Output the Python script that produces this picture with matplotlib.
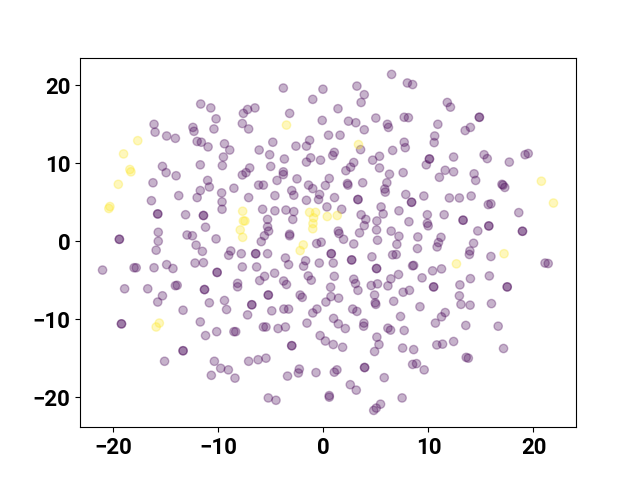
import matplotlib
matplotlib.use('Agg')
import matplotlib.pyplot as plt
import numpy as np

# t-SNE embedding: class 0 (purple)
x0 = [
    -11.66, -10.7, -10.2, -16.1, -16.0, -14.9, -14.07, -12.4, -12.3, -12.0,
    -11.6, -10.96, -10.4, -9.4, -8.9, -9.5, -9.6, -11.7, -15.3, -14.95,
    -14.0, -16.2, -11.0, -7.7, -7.35, -7.0, -7.7, -7.1, -7.6, -7.2,
    6.5, 8.0, 8.5, -3.8, -0.03, 3.2, 3.9, -1.0, 3.6, 1.4,
    -3.2, -6.5, -0.1, 2.4, 3.1, 5.0, 6.1, 6.2, 7.7, 8.1,
    3.9, 0.5, 1.6, -1.3, -1.6, -2.6, -4.8, -6.1, -5.1, -3.7,
    -5.0, -3.8, -3.8, -4.4, -2.5, -1.4, -6.15, -5.7, 0.57, 1.05,
    0.9, -1.2, -1.6, -0.26, 2.9, 2.6, 2.15, 3.55, 4.7, 5.35,
    5.35, 6.6, 7.7, 7.8, 7.6, 6.3, 6.05, 3.75, 2.3, 2.35,
    11.8, 12.1, 14.85, 14.85, 14.0, 13.5, 10.9, 10.6, 10.55, 10.1,
    10.1, 9.8, 12.4, 15.3, 15.6, 17.7, 19.2, 19.5, 11.6, 12.4,
    11.05, 14.35, 14.5, 17.0,
    -10.84, -11.7, -12.0, -9.67, -8.5, -7.1, -13.75, -16.35, -9.63, -9.63,
    -15.75, -15.75, -13.1, -11.4, -11.4, -11.2, -15.7, -15.7, -15.9, -12.96,
    -12.45, -12.1, -11.5, -10.2, -19.4, -19.4, -8.8, -9.0, -7.8, -12.2,
    -11.4, -14.9, -14.3, -16.1, -18.0, -17.8, -21.0, -10.1, -10.1, -7.7,
    -18.9, -16.7, -14.07, -13.9, -11.3, -11.3, -8.15, -8.15, -15.3, -15.75,
    -9.4, -10.84,
    -4.6, -1.0, 0.2, -3.0, -2.8, -1.6, -0.35, -0.45, 1.07, 3.3,
    3.3, 5.85, 5.9, 7.85, 8.4, 8.4, -5.77, -4.6, -3.55, -2.8,
    -2.9, -5.3, -5.3, -5.2, -5.6, -5.9, -3.2, -3.2, 0.35, 1.75,
    3.6, 4.05, 3.9, 3.45, 5.5, 5.7, 5.1, 5.07, 5.16, 7.2,
    8.15, 6.46, 7.2, 7.0, 6.6, 6.94, 1.43, 1.5, 1.93, 2.9,
    -0.63, -0.2, -6.43, -6.43, -5.3, 0.76, 0.76, 2.7, 2.7, -3.6,
    -3.3, -1.68, -1.87, -0.38, 0.95, 4.63, 5.07, 5.07, 8.5, -6.34,
    -4.63, -5.58, -6.05, -3.77, -3.5, -1.43, -1.14, 1.05, 2.9, 3.07,
    3.3, 7.16, 6.43, 6.15, 5.16, 4.56, 0.7, 0.73, 1.46, 0.25,
    -5.23, -5.23, -2.2, -2.0, 4.88, 4.94, 5.0, 6.7, 7.6, 8.2,
    -6.8, -6.8,
    9.57, 12.0, 12.95, 14.07, 17.1, 17.27, 15.7, 15.95, 18.6, 9.9,
    11.5, 9.9, 9.98, 13.3, 13.3, 15.75, 15.75, 14.7, 18.95, 18.95,
    9.0, 11.2, 10.96, 10.83, 8.96, 14.3, 13.95, 13.9, 15.95, 21.1,
    21.4, 8.6, 10.4, 11.25, 9.4, 15.8, 14.0, 13.0, 10.5, 10.5,
    17.5, 17.5, 12.95, 13.1, 13.97, 16.0, 9.2,
    -13.34, -9.2, -7.2, -19.2, -19.2, -11.7, -11.2, -10.14, -8.5, -8.33,
    -13.34, -13.34, -15.1, -10.36, -9.76, -9.03, -10.65, -8.4, -7.1,
    -4.9, -3.75, -3.3, -0.6, -1.0, -1.55, -5.7, -5.45, -4.3,
    -3.6, 2.8, 3.2, 0.98, 1.43, 2.1, 3.87, 3.84, 7.35, 6.15,
    6.4, 7.7, 5.1, 5.3, 4.88, -0.3, 0.2, 0.95, 1.84, -3.0,
    -3.0, -6.2, -5.45, 7.55, 8.6, 8.5, 8.87, 3.93, 3.93, 5.8,
    -2.28, -2.37, -3.4, -0.69, 1.3, 1.05, 2.57, 3.14, -5.23, -4.5,
    0.57, 0.57, 7.5, 5.45, 5.04, 4.8,
    11.6, 11.25, 10.67, 13.56, 16.64, 12.4, 10.8, 11.35, 17.15, 13.6,
    13.8, 9.6,
]
y0 = [
    17.6, 17.1, 15.7, 15.0, 13.99, 13.5, 13.2, 14.6, 14.1, 12.8,
    12.7, 12.1, 14.4, 12.5, 11.7, 10.8, 9.7, 9.8, 9.6, 8.8,
    8.4, 7.5, 7.8, 8.5, 8.8, 9.4, 15.1, 14.4, 16.4, 16.9,
    21.4, 20.3, 20.1, 19.65, 19.5, 19.9, 18.8, 18.2, 17.8, 17.0,
    16.4, 17.1, 15.5, 15.4, 15.2, 15.8, 15.0, 14.6, 15.9, 15.85,
    14.3, 13.6, 13.6, 12.95, 12.2, 12.2, 12.7, 11.7, 11.1, 10.55,
    9.6, 8.9, 8.55, 7.8, 8.0, 7.2, 7.2, 7.2, 8.05, 11.4,
    11.0, 10.7, 10.15, 10.4, 10.1, 9.5, 9.05, 11.75, 10.4, 10.9,
    9.4, 11.65, 12.7, 12.0, 8.8, 8.6, 7.5, 7.5, 7.4, 7.2,
    17.8, 17.2, 15.9, 15.9, 14.6, 14.2, 15.0, 13.5, 12.65, 10.55,
    10.55, 9.8, 10.8, 11.1, 10.6, 10.15, 11.1, 11.25, 9.1, 8.9,
    8.2, 8.65, 7.8, 7.3,
    6.96, 6.5, 5.6, 6.2, 6.8, 5.6, 5.85, 5.2, 5.05, 4.1,
    3.5, 3.5, 3.4, 3.3, 3.3, 1.8, 1.15, 0.0, -1.15, 0.8,
    0.7, -0.5, -1.3, 0.3, 0.25, 0.25, -1.25, -1.8, -1.6, -2.8,
    -2.75, -3.0, -3.5, -3.4, -3.4, -3.4, -3.7, -4.0, -4.0, -3.3,
    -6.1, -6.1, -5.7, -5.65, -6.2, -6.2, -5.4, -5.85, -7.0, -7.8,
    -7.6, -7.9,
    5.85, 6.75, 7.15, 6.5, 5.9, 5.25, 6.0, 5.35, 5.6, 5.35,
    5.35, 6.7, 6.3, 6.0, 5.0, 5.0, 4.1, 3.9, 4.0, 3.8,
    2.8, 2.8, 1.85, 1.3, 0.7, -0.05, 0.9, 0.7, 4.4, 4.1,
    3.4, 2.8, 2.0, 1.07, 4.4, 3.5, 2.6, 1.45, 0.13, 3.9,
    2.5, 1.3, 0.64, -0.4, -1.75, -1.7, 1.3, 0.99, 0.25, -0.35,
    -0.3, -0.13, -1.6, -1.6, -1.6, -1.6, -1.6, -2.4, -2.4, -2.15,
    -3.0, -2.5, -3.2, -2.8, -2.8, -2.0, -3.5, -3.5, -3.15, -3.3,
    -4.1, -4.5, -5.05, -5.1, -5.55, -4.45, -5.0, -4.5, -4.87, -5.43,
    -6.3, -4.27, -4.83, -5.73, -5.47, -5.68, -5.9, -7.1, -7.3, -7.8,
    -6.9, -6.9, -6.9, -7.2, -6.9, -7.9, -8.1, -7.7, -6.54, -6.3,
    -8.15, -8.15,
    5.8, 5.55, 5.55, 5.8, 7.2, 6.9, 4.7, 4.8, 3.67, 3.4,
    3.4, 2.3, 1.97, 2.7, 2.7, 1.96, 1.96, 1.32, 1.28, 1.28,
    0.55, 0.5, -0.17, -0.73, -0.94, -0.26, -1.25, -1.7, -1.96, -2.8,
    -2.86, -3.1, -3.8, -3.55, -4.7, -4.45, -4.8, -5.6, -5.86, -5.86,
    -5.86, -5.86, -7.0, -8.1, -8.2, -8.0, -8.4,
    -8.85, -8.76, -9.45, -10.6, -10.6, -10.35, -12.1, -11.6, -11.6, -11.6,
    -14.05, -14.05, -15.4, -15.4, -16.3, -16.5, -17.2, -17.56, -15.4,
    -8.93, -8.7, -8.7, -8.7, -9.2, -10.5, -11.0, -11.0, -11.2,
    -11.0, -8.7, -9.0, -9.9, -10.6, -11.2, -10.5, -10.9, -9.65, -11.15,
    -11.4, -11.45, -12.3, -13.25, -14.15, -12.1, -12.8, -13.25, -13.6, -13.4,
    -13.4, -15.2, -15.0, -13.7, -13.9, -15.8, -15.7, -16.2, -16.2, -17.5,
    -16.4, -16.9, -17.3, -16.85, -16.5, -16.8, -18.4, -19.1, -20.1, -20.4,
    -19.8, -20.0, -20.1, -20.9, -21.4, -21.7,
    -9.15, -9.7, -10.5, -10.8, -10.9, -12.86, -13.3, -13.2, -13.76, -14.9,
    -15.0, -16.5,
]

# class 1 (yellow)
x1 = [-17.65, -19.0, -18.4, -18.3, -19.5, -3.5, 3.35, 20.75, -20.3, -20.4,
      -7.67, -7.6, -7.45, -7.9, -7.67, -1.3, -0.73, 0.38, 1.33, -0.92,
      -0.98, -1.0, -1.9, -2.2, 21.9, 17.2, 12.67, -15.6, -15.9]
y1 = [12.9, 11.2, 9.2, 8.9, 7.3, 14.9, 12.4, 7.7, 4.45, 4.2,
      3.85, 2.6, 2.6, 1.45, 0.5, 3.7, 3.7, 3.17, 3.3, 3.0,
      2.27, 1.6, -0.47, -1.2, 4.9, -1.6, -2.9, -10.5, -11.0]

xs = np.array(x0 + x1)
ys = np.array(y0 + y1)
labels = np.array([0] * len(x0) + [1] * len(x1))

plt.rcParams['font.family'] = 'Roboto'
plt.rcParams['font.weight'] = 'bold'
plt.rcParams['font.size'] = 16

fig, ax = plt.subplots(figsize=(6.4, 4.8), dpi=100)
ax.scatter(xs, ys, c=labels, alpha=0.3)

fig.savefig('out.png')
plt.close(fig)
